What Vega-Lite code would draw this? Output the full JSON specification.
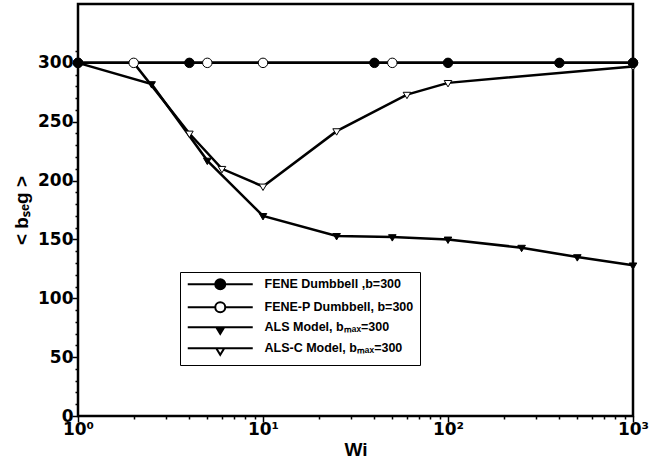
{
  "$schema": "https://vega.github.io/schema/vega-lite/v6.json",
  "width": 555,
  "height": 412,
  "autosize": "none",
  "padding": {"left": 78, "top": 4, "right": 16, "bottom": 48},
  "background": "white",
  "config": {
    "view": {"stroke": "black", "strokeWidth": 2.5},
    "axis": {"grid": false, "domain": false, "ticks": true, "tickOpacity": 1, "tickColor": "black", "tickWidth": 1.5, "labelColor": "black", "titleColor": "black", "zindex": 2}
  },
  "datasets": {
    "series": [
      {"series": "ALS-C Model, bₘₐₓ=300", "Wi": 2, "b": 300},
      {"series": "ALS-C Model, bₘₐₓ=300", "Wi": 4, "b": 240},
      {"series": "ALS-C Model, bₘₐₓ=300", "Wi": 6, "b": 210},
      {"series": "ALS-C Model, bₘₐₓ=300", "Wi": 10, "b": 195},
      {"series": "ALS-C Model, bₘₐₓ=300", "Wi": 25, "b": 242},
      {"series": "ALS-C Model, bₘₐₓ=300", "Wi": 60, "b": 273},
      {"series": "ALS-C Model, bₘₐₓ=300", "Wi": 100, "b": 283},
      {"series": "ALS-C Model, bₘₐₓ=300", "Wi": 1000, "b": 297},
      {"series": "ALS Model, bₘₐₓ=300", "Wi": 1, "b": 300},
      {"series": "ALS Model, bₘₐₓ=300", "Wi": 2.5, "b": 282},
      {"series": "ALS Model, bₘₐₓ=300", "Wi": 5, "b": 217},
      {"series": "ALS Model, bₘₐₓ=300", "Wi": 10, "b": 170},
      {"series": "ALS Model, bₘₐₓ=300", "Wi": 25, "b": 153},
      {"series": "ALS Model, bₘₐₓ=300", "Wi": 50, "b": 152},
      {"series": "ALS Model, bₘₐₓ=300", "Wi": 100, "b": 150},
      {"series": "ALS Model, bₘₐₓ=300", "Wi": 250, "b": 143},
      {"series": "ALS Model, bₘₐₓ=300", "Wi": 500, "b": 135},
      {"series": "ALS Model, bₘₐₓ=300", "Wi": 1000, "b": 128},
      {"series": "FENE-P Dumbbell, b=300", "Wi": 1, "b": 300},
      {"series": "FENE-P Dumbbell, b=300", "Wi": 2, "b": 300},
      {"series": "FENE-P Dumbbell, b=300", "Wi": 5, "b": 300},
      {"series": "FENE-P Dumbbell, b=300", "Wi": 10, "b": 300},
      {"series": "FENE-P Dumbbell, b=300", "Wi": 50, "b": 300},
      {"series": "FENE-P Dumbbell, b=300", "Wi": 1000, "b": 300},
      {"series": "FENE Dumbbell ,b=300", "Wi": 1, "b": 300},
      {"series": "FENE Dumbbell ,b=300", "Wi": 4, "b": 300},
      {"series": "FENE Dumbbell ,b=300", "Wi": 40, "b": 300},
      {"series": "FENE Dumbbell ,b=300", "Wi": 100, "b": 300},
      {"series": "FENE Dumbbell ,b=300", "Wi": 400, "b": 300},
      {"series": "FENE Dumbbell ,b=300", "Wi": 1000, "b": 300}
    ]
  },
  "data": {"name": "series"},
  "layer": [
    {
      "mark": {"type": "line", "color": "black", "strokeWidth": 2.5},
      "encoding": {
        "x": {"field": "Wi", "type": "quantitative", "scale": {"type": "log", "domain": [1, 1000]},
          "axis": {"orient": "bottom", "values": [1, 10, 100, 1000], "ticks": true, "tickSize": 6,
            "labelExpr": "datum.value == 1 ? '10⁰' : datum.value == 10 ? '10¹' : datum.value == 100 ? '10²' : '10³'",
            "labelFont": "DejaVu Sans", "labelFontWeight": "bold", "labelFontSize": 17, "labelPadding": -1, "labelFlush": false,
            "title": "Wi", "titleFont": "Liberation Sans", "titleFontWeight": "bold", "titleFontSize": 19, "titlePadding": 3}},
        "y": {"field": "b", "type": "quantitative", "scale": {"domain": [0, 320]},
          "axis": {"orient": "left", "values": [0, 50, 100, 150, 200, 250, 300], "ticks": true, "tickSize": 6,
            "labelFont": "DejaVu Sans", "labelFontWeight": "bold", "labelFontSize": 17, "labelPadding": -1, "labelFlush": false,
            "title": "< bₛₑg >", "titleFont": "Liberation Sans", "titleFontWeight": "bold", "titleFontSize": 19, "titlePadding": 6}},
        "detail": {"field": "series"}
      }
    },
    {
      "mark": {"type": "point", "filled": true, "stroke": "black", "strokeWidth": 1, "size": 90, "opacity": 1},
      "encoding": {
        "x": {"field": "Wi", "type": "quantitative", "axis": null},
        "y": {"field": "b", "type": "quantitative", "axis": null},
        "shape": {"field": "series", "type": "nominal", "legend": null,
          "scale": {"domain": ["FENE Dumbbell ,b=300", "FENE-P Dumbbell, b=300", "ALS Model, bₘₐₓ=300", "ALS-C Model, bₘₐₓ=300"],
            "range": ["circle", "circle", "M-0.8,-0.5L0.8,-0.5L0,0.85Z", "M-0.8,-0.5L0.8,-0.5L0,0.85Z"]}},
        "fill": {"field": "series", "type": "nominal", "legend": null,
          "scale": {"domain": ["FENE Dumbbell ,b=300", "FENE-P Dumbbell, b=300", "ALS Model, bₘₐₓ=300", "ALS-C Model, bₘₐₓ=300"],
            "range": ["black", "white", "black", "white"]}}
      }
    },
    {
      "transform": [{"filter": "datum.Wi < 0"}],
      "mark": {"type": "point", "filled": true, "stroke": "black", "strokeWidth": 2, "size": 100},
      "encoding": {
        "x": {"field": "Wi", "type": "quantitative", "axis": null},
        "y": {"field": "b", "type": "quantitative", "axis": null},
        "shape": {"field": "series", "type": "nominal",
          "scale": {"domain": ["FENE Dumbbell ,b=300", "FENE-P Dumbbell, b=300", "ALS Model, bₘₐₓ=300", "ALS-C Model, bₘₐₓ=300"],
            "range": ["M-6.5,0H6.5M-1,0A1,1 0 1,0 1,0A1,1 0 1,0 -1,0Z", "M-6.5,0H-1M1,0H6.5M-1,0A1,1 0 1,0 1,0A1,1 0 1,0 -1,0Z", "M-6.5,0H6.5M-0.8,0L0.8,0L0,1.3Z", "M-6.5,0H-0.8M0.8,0H6.5M-0.8,0L0.8,0L0,1.3Z"]},
          "legend": {"orient": "none", "legendX": 102, "legendY": 268, "title": null, "strokeColor": "black",
            "padding": 6, "rowPadding": 4, "symbolSize": 100, "symbolStrokeWidth": 2, "symbolStrokeColor": "black", "symbolOpacity": 1,
            "symbolOffset": 28, "labelOffset": 38, "labelFont": "Liberation Sans", "labelFontWeight": "bold", "labelFontSize": 12.5,
            "labelColor": "black", "labelLimit": 300,
            "encode": {"symbols": {"update": {"stroke": {"value": "black"}, "strokeWidth": {"value": 2}}}}}},
        "fill": {"field": "series", "type": "nominal",
          "scale": {"domain": ["FENE Dumbbell ,b=300", "FENE-P Dumbbell, b=300", "ALS Model, bₘₐₓ=300", "ALS-C Model, bₘₐₓ=300"],
            "range": ["black", "white", "black", "white"]},
          "legend": {"orient": "none", "legendX": 102, "legendY": 268, "title": null, "strokeColor": "black",
            "padding": 6, "rowPadding": 4, "symbolSize": 100, "symbolStrokeWidth": 2, "symbolStrokeColor": "black", "symbolOpacity": 1,
            "symbolOffset": 28, "labelOffset": 38, "labelFont": "Liberation Sans", "labelFontWeight": "bold", "labelFontSize": 12.5,
            "labelColor": "black", "labelLimit": 300,
            "encode": {"symbols": {"update": {"stroke": {"value": "black"}, "strokeWidth": {"value": 2}}}}}}
      }
    },
    {
      "transform": [{"filter": "datum.Wi < 0"}],
      "mark": {"type": "point"},
      "encoding": {
        "x": {"field": "Wi", "type": "quantitative",
          "axis": {"orient": "bottom", "values": [2, 3, 4, 5, 6, 7, 8, 9, 20, 30, 40, 50, 60, 70, 80, 90, 200, 300, 400, 500, 600, 700, 800, 900],
            "ticks": true, "tickSize": 3, "labels": false, "title": null}},
        "y": {"field": "b", "type": "quantitative",
          "axis": {"orient": "left", "values": [10, 20, 30, 40, 60, 70, 80, 90, 110, 120, 130, 140, 160, 170, 180, 190, 210, 220, 230, 240, 260, 270, 280, 290, 310],
            "ticks": true, "tickSize": 3, "labels": false, "title": null}}
      }
    }
  ],
  "resolve": {
    "scale": {"shape": "independent", "fill": "independent"},
    "axis": {"x": "independent", "y": "independent"}
  }
}
